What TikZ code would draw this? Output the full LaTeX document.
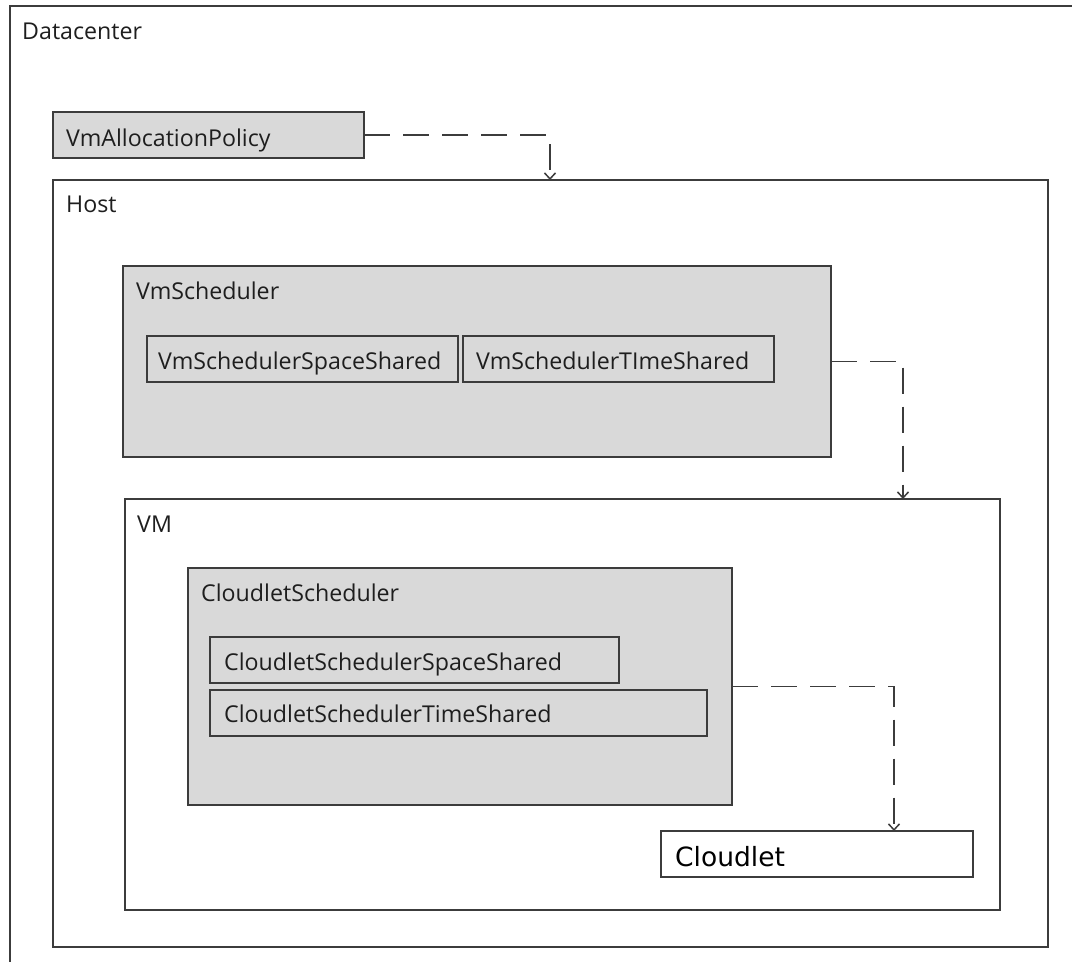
\documentclass[tikz,border=0pt]{standalone}
\usepackage{fontspec}
\setmainfont{Open Sans}
\newfontfamily\cloudfont{DejaVu Sans}
\usetikzlibrary{arrows.meta}
\definecolor{edge}{HTML}{3C3C3C}
\definecolor{panel}{HTML}{D9D9D9}
\definecolor{ink}{HTML}{1E1E1E}

\begin{document}
\begin{tikzpicture}[x=1pt,y=-1pt,
  frame/.style={draw=edge, line width=1.5pt, anchor=north west, inner sep=0pt, outer sep=0pt, rectangle},
  greybox/.style={frame, fill=panel},
  whitebox/.style={frame, fill=white},
  lbl/.style={anchor=base west, inner sep=0pt, text=ink, font=\fontsize{23.2}{25}\selectfont},
  dep/.style={draw=edge, line width=1.5pt, dash pattern=on 26pt off 13pt,
              -{Straight Barb[length=6pt,width=11pt,line width=1.5pt]}},
]
\useasboundingbox (0,0) rectangle (1072,962);
\clip (0,0) rectangle (1072,962);

% outer datacenter frame (runs past the right and bottom edges)
\node[whitebox, minimum width=1090pt, minimum height=980pt] (dc) at (10,6) {};
\node[lbl] (dclbl) at (22,39) {Datacenter};

% allocation policy
\node[greybox, minimum width=311pt, minimum height=46pt] (alloc) at (53,112) {};
\node[lbl] (alloclbl) at (66,146) {VmAllocationPolicy};

% host
\node[whitebox, minimum width=995pt, minimum height=767pt] (host) at (53,180) {};
\node[lbl] (hostlbl) at (66,212) {Host};

% vm scheduler and its variants
\node[greybox, minimum width=708pt, minimum height=191pt] (vmsched) at (123,266) {};
\node[lbl] (vmschedlbl) at (136,299) {VmScheduler};
\node[greybox, minimum width=311pt, minimum height=46pt] (vmss) at (147,336) {};
\node[lbl] (vmsslbl) at (158,369) {VmSchedulerSpaceShared};
\node[greybox, minimum width=311pt, minimum height=46pt] (vmts) at (463,336) {};
\node[lbl] (vmtslbl) at (476,369) {VmSchedulerTImeShared};

% virtual machine
\node[whitebox, minimum width=875pt, minimum height=411pt] (vm) at (125,499) {};
\node[lbl] (vmlbl) at (137,532) {VM};

% cloudlet scheduler and its variants
\node[greybox, minimum width=544pt, minimum height=237pt] (csched) at (188,568) {};
\node[lbl] (cschedlbl) at (201,601) {CloudletScheduler};
\node[greybox, minimum width=409pt, minimum height=46pt] (css) at (210,637) {};
\node[lbl] (csslbl) at (224,670) {CloudletSchedulerSpaceShared};
\node[greybox, minimum width=497pt, minimum height=46pt] (cts) at (210,690) {};
\node[lbl] (ctslbl) at (224,722) {CloudletSchedulerTimeShared};

% cloudlet
\node[whitebox, minimum width=312pt, minimum height=46pt] (cloudlet) at (661,831) {};
\node[lbl, font=\cloudfont\fontsize{26.5}{28}\selectfont, text=black] (cloudletlbl) at (675,866) {Cloudlet};

% entry points of the dependency arrows
\coordinate (hostin) at (550,180);
\coordinate (vmin) at (903,499);
\coordinate (cloudletin) at (894,831);

\draw[dep] (alloc.east) -| (hostin);
\draw[dep] (vmsched.east) -| (vmin);
\draw[dep] (csched.east) -| (cloudletin);
\end{tikzpicture}
\end{document}
